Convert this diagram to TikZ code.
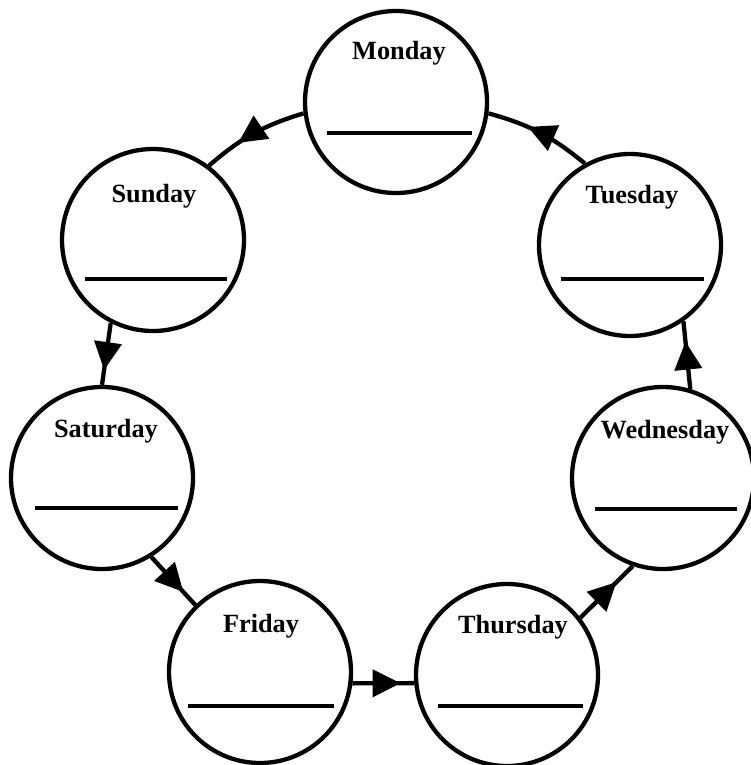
\documentclass[tikz,border=0pt]{standalone}
\usepackage{fontspec}
\setmainfont{Liberation Serif}
\usetikzlibrary{arrows.meta,decorations.markings}

\begin{document}
\begin{tikzpicture}[x=1pt,y=-1pt,
  daycirc/.style={draw,circle,line width=4.3pt,minimum size=182pt,inner sep=0pt},
  dayname/.style={font=\bfseries\fontsize{26.3}{30}\selectfont,anchor=base,inner sep=0pt},
  blank/.style={line width=4.5pt},
  flow/.style={line width=4.3pt,postaction={decorate},
    decoration={markings,mark=at position #1 with {\arrow{Triangle[length=28pt,width=27pt]}}}},
  flow/.default=0.72]
\useasboundingbox (0,0) rectangle (750,765);
\node[daycirc] (mon) at (396,102) {};
\node[daycirc] (tue) at (630,245) {};
\node[daycirc] (wed) at (663,478) {};
\node[daycirc] (thu) at (507,675) {};
\node[daycirc] (fri) at (260,672) {};
\node[daycirc] (sat) at (102,478) {};
\node[daycirc] (sun) at (153,240) {};
\node[dayname] (monname) at ([xshift=3pt,yshift=42pt]mon.center) {Monday};
\node[dayname] (tuename) at ([xshift=2pt,yshift=42pt]tue.center) {Tuesday};
\node[dayname] (wedname) at ([xshift=2pt,yshift=40pt]wed.center) {Wednesday};
\node[dayname] (thuname) at ([xshift=6pt,yshift=42pt]thu.center) {Thursday};
\node[dayname] (friname) at ([xshift=1pt,yshift=40pt]fri.center) {Friday};
\node[dayname] (satname) at ([xshift=4pt,yshift=41pt]sat.center) {Saturday};
\node[dayname] (sunname) at ([xshift=1pt,yshift=38pt]sun.center) {Sunday};
\draw[blank] ([xshift=-69.5pt,yshift=-31pt]mon.center) -- ++(145,0);
\draw[blank] ([xshift=-69.5pt,yshift=-34pt]tue.center) -- ++(143,0);
\draw[blank] ([xshift=-68pt,yshift=-31pt]wed.center) -- ++(142,0);
\draw[blank] ([xshift=-69pt,yshift=-31pt]thu.center) -- ++(145,0);
\draw[blank] ([xshift=-72pt,yshift=-34pt]fri.center) -- ++(146,0);
\draw[blank] ([xshift=-67pt,yshift=-30pt]sat.center) -- ++(143,0);
\draw[blank] ([xshift=-68pt,yshift=-39pt]sun.center) -- ++(142,0);
\draw[flow=0.62] (tue.119) to[bend right=12] (mon.-7);
\draw[flow=0.66] (mon.187) to[bend right=12] (sun.53);
\draw[flow=0.76] (sun.-117) -- (sat.90);
\draw[flow=0.73] (sat.-58) -- (fri.134);
\draw[flow=0.78] (fri.-7) -- (thu.185);
\draw[flow=0.69] (thu.38) -- (wed.-109);
\draw[flow=0.7] (wed.73) -- (tue.-55);
\end{tikzpicture}
\end{document}
